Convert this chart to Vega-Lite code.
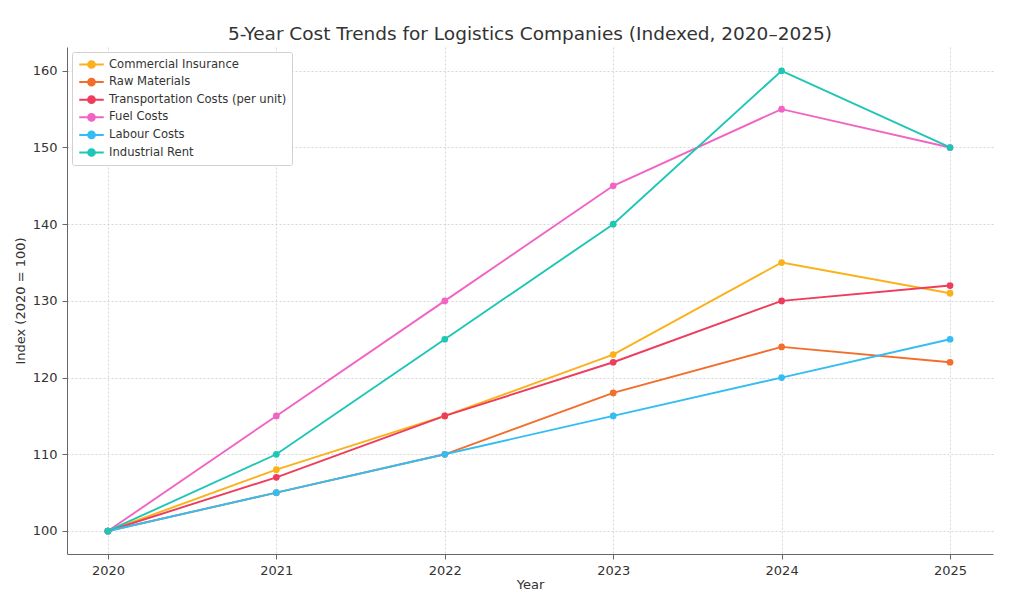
{
  "$schema": "https://vega.github.io/schema/vega-lite/v6.json",
  "autosize": {"type": "none"},
  "width": 926,
  "height": 507,
  "padding": {"left": 67, "top": 47, "right": 31, "bottom": 58},
  "background": "white",
  "title": {
    "text": "5-Year Cost Trends for Logistics Companies (Indexed, 2020–2025)",
    "font": "DejaVu Sans",
    "fontSize": 18.5,
    "fontWeight": "normal",
    "color": "#333333",
    "anchor": "middle",
    "offset": 4
  },
  "config": {
    "font": "DejaVu Sans",
    "view": {"stroke": null},
    "axis": {
      "labelFont": "DejaVu Sans",
      "titleFont": "DejaVu Sans",
      "labelFontSize": 13,
      "titleFontSize": 13,
      "titleFontWeight": "normal",
      "labelColor": "#333333",
      "titleColor": "#333333",
      "domainColor": "#666666",
      "tickColor": "#666666",
      "gridColor": "#cccccc",
      "gridDash": [2, 2],
      "gridWidth": 0.8
    }
  },
  "data": {
    "values": [
      {"year": 2020, "series": "Commercial Insurance", "index": 100},
      {"year": 2021, "series": "Commercial Insurance", "index": 108},
      {"year": 2022, "series": "Commercial Insurance", "index": 115},
      {"year": 2023, "series": "Commercial Insurance", "index": 123},
      {"year": 2024, "series": "Commercial Insurance", "index": 135},
      {"year": 2025, "series": "Commercial Insurance", "index": 131},
      {"year": 2020, "series": "Raw Materials", "index": 100},
      {"year": 2021, "series": "Raw Materials", "index": 105},
      {"year": 2022, "series": "Raw Materials", "index": 110},
      {"year": 2023, "series": "Raw Materials", "index": 118},
      {"year": 2024, "series": "Raw Materials", "index": 124},
      {"year": 2025, "series": "Raw Materials", "index": 122},
      {"year": 2020, "series": "Transportation Costs (per unit)", "index": 100},
      {"year": 2021, "series": "Transportation Costs (per unit)", "index": 107},
      {"year": 2022, "series": "Transportation Costs (per unit)", "index": 115},
      {"year": 2023, "series": "Transportation Costs (per unit)", "index": 122},
      {"year": 2024, "series": "Transportation Costs (per unit)", "index": 130},
      {"year": 2025, "series": "Transportation Costs (per unit)", "index": 132},
      {"year": 2020, "series": "Fuel Costs", "index": 100},
      {"year": 2021, "series": "Fuel Costs", "index": 115},
      {"year": 2022, "series": "Fuel Costs", "index": 130},
      {"year": 2023, "series": "Fuel Costs", "index": 145},
      {"year": 2024, "series": "Fuel Costs", "index": 155},
      {"year": 2025, "series": "Fuel Costs", "index": 150},
      {"year": 2020, "series": "Labour Costs", "index": 100},
      {"year": 2021, "series": "Labour Costs", "index": 105},
      {"year": 2022, "series": "Labour Costs", "index": 110},
      {"year": 2023, "series": "Labour Costs", "index": 115},
      {"year": 2024, "series": "Labour Costs", "index": 120},
      {"year": 2025, "series": "Labour Costs", "index": 125},
      {"year": 2020, "series": "Industrial Rent", "index": 100},
      {"year": 2021, "series": "Industrial Rent", "index": 110},
      {"year": 2022, "series": "Industrial Rent", "index": 125},
      {"year": 2023, "series": "Industrial Rent", "index": 140},
      {"year": 2024, "series": "Industrial Rent", "index": 160},
      {"year": 2025, "series": "Industrial Rent", "index": 150}
    ]
  },
  "encoding": {
    "x": {
      "field": "year",
      "type": "quantitative",
      "title": "Year",
      "scale": {"domain": [2019.757, 2025.255], "nice": false, "zero": false},
      "axis": {"values": [2020, 2021, 2022, 2023, 2024, 2025], "format": "d", "titlePadding": 1, "labelPadding": 5}
    },
    "y": {
      "field": "index",
      "type": "quantitative",
      "title": "Index (2020 = 100)",
      "scale": {"domain": [97, 163.1], "nice": false, "zero": false},
      "axis": {"values": [100, 110, 120, 130, 140, 150, 160], "titlePadding": 5, "labelPadding": 5}
    },
    "color": {
      "field": "series",
      "type": "nominal",
      "sort": ["Commercial Insurance", "Raw Materials", "Transportation Costs (per unit)", "Fuel Costs", "Labour Costs", "Industrial Rent"],
      "scale": {
        "domain": ["Commercial Insurance", "Raw Materials", "Transportation Costs (per unit)", "Fuel Costs", "Labour Costs", "Industrial Rent"],
        "range": ["#fbb11a", "#f36d2b", "#ee3d5c", "#f164c4", "#33bdf2", "#1ec6b6"]
      },
      "legend": {
        "title": null,
        "orient": "top-left",
        "offset": 5,
        "padding": 5,
        "strokeColor": "#d0d0d0",
        "fillColor": "white",
        "cornerRadius": 2,
        "labelFont": "DejaVu Sans",
        "labelFontSize": 11.6,
        "labelColor": "#333333",
        "labelLimit": 300,
        "labelOffset": 10,
        "symbolOffset": 7,
        "rowPadding": 2.6,
        "symbolSize": 150,
        "symbolStrokeWidth": 2,
        "symbolType": "M-2,0H2M0.55,0A0.55,0.55,0,1,1,-0.55,0A0.55,0.55,0,1,1,0.55,0Z"
      }
    }
  },
  "layer": [
    {"mark": {"type": "line", "strokeWidth": 1.9}},
    {"mark": {"type": "point", "filled": true, "size": 45, "opacity": 1}}
  ]
}
